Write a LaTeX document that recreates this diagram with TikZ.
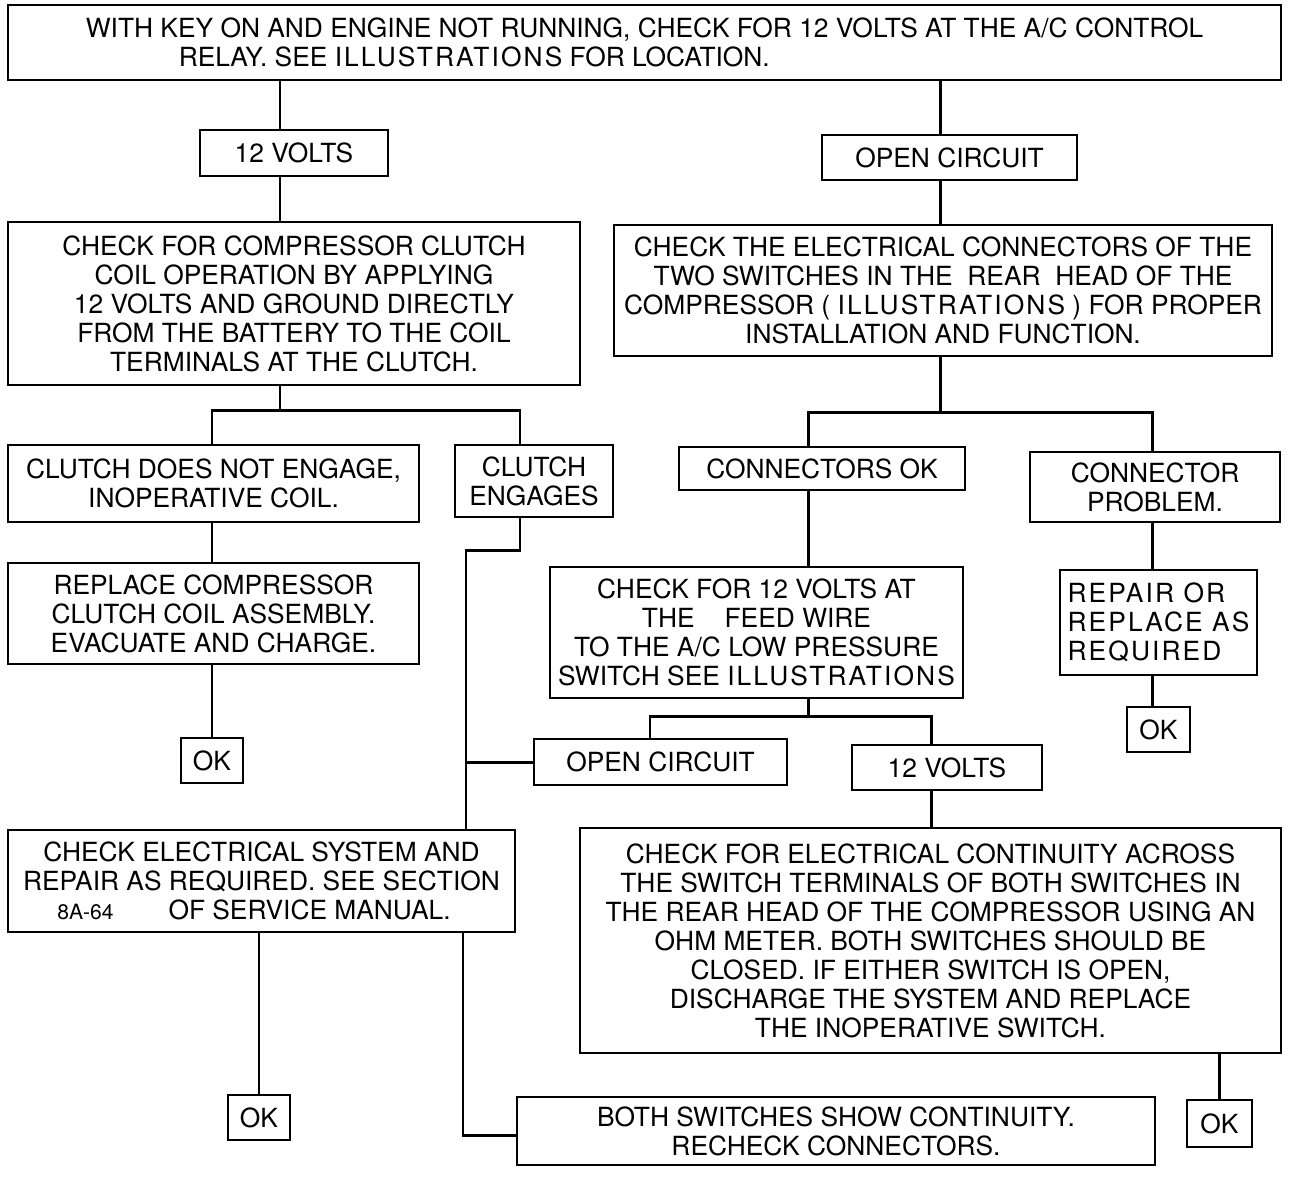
\documentclass[tikz,border=0pt]{standalone}
\usepackage{fontspec}
\setmainfont{TeX Gyre Heros}
\newfontfamily\spacedfont[LetterSpace=8]{TeX Gyre Heros}
\newcommand{\ltr}[1]{{\spacedfont #1}}
\begin{document}
\begin{tikzpicture}[x=0.02cm, y=-0.02cm,
    box/.style={draw, line width=1.5pt, align=center, inner sep=2pt,
                font=\fontsize{15}{16.5}\selectfont},
    wire/.style={line width=1.7pt}]
  \useasboundingbox (0,0) rectangle (1289,1178);
  % boxes
  \node[box, minimum width=25.46cm, minimum height=1.5cm, align=left] (top) at (644.5,42.5)
       {WITH KEY ON AND ENGINE NOT RUNNING, CHECK FOR 12 VOLTS AT THE A/C CONTROL\\
        \hspace*{1.86cm}RELAY. SEE \ltr{ILLUSTRATIONS} FOR LOCATION.};
  \node[box, minimum width=3.76cm, minimum height=0.92cm] (volts) at (294,153) {12 VOLTS};
  \node[box, minimum width=5.1cm, minimum height=0.9cm] (open) at (949.5,157.5) {OPEN CIRCUIT};
  \node[box, minimum width=11.44cm, minimum height=3.26cm] (coil) at (294,303.5)
       {CHECK FOR COMPRESSOR CLUTCH\\ COIL OPERATION BY APPLYING\\ 12 VOLTS AND GROUND DIRECTLY\\
        FROM THE BATTERY TO THE COIL\\ TERMINALS AT THE CLUTCH.};
  \node[box, minimum width=13.16cm, minimum height=2.62cm] (conn) at (943,290.5)
       {CHECK THE ELECTRICAL CONNECTORS OF THE\\ TWO SWITCHES IN THE \ REAR \ HEAD OF THE\\
        COMPRESSOR ( \ltr{ILLUSTRATIONS} ) FOR PROPER\\ INSTALLATION AND FUNCTION.};
  \node[box, minimum width=8.22cm, minimum height=1.54cm] (noeng) at (213.5,483.5)
       {CLUTCH DOES NOT ENGAGE,\\ INOPERATIVE COIL.};
  \node[box, minimum width=3.16cm, minimum height=1.44cm] (eng) at (534,481) {CLUTCH\\ ENGAGES};
  \node[box, minimum width=5.72cm, minimum height=0.86cm] (connok) at (822,468.5) {CONNECTORS OK};
  \node[box, minimum width=5cm, minimum height=1.4cm] (connbad) at (1155,487) {CONNECTOR\\ PROBLEM.};
  \node[box, minimum width=8.22cm, minimum height=2.02cm] (replace) at (213.5,613.5)
       {REPLACE COMPRESSOR\\ CLUTCH COIL ASSEMBLY.\\ EVACUATE AND CHARGE.};
  \node[box, minimum width=1.24cm, minimum height=0.9cm] (okA) at (212,760.5) {OK};
  \node[box, minimum width=8.26cm, minimum height=2.62cm] (feed) at (756.5,632.5)
       {CHECK FOR 12 VOLTS AT\\ THE\hspace{0.6cm}FEED WIRE\\ TO THE A/C LOW PRESSURE\\
        SWITCH SEE \ltr{ILLUSTRATIONS}};
  \node[box, minimum width=3.94cm, minimum height=2.1cm, align=left] (repair) at (1158.5,622.5)
       {\ltr{REPAIR OR}\\ \ltr{REPLACE AS}\\ \ltr{REQUIRED}};
  \node[box, minimum width=1.26cm, minimum height=0.9cm] (okB) at (1158.5,729.5) {OK};
  \node[box, minimum width=5.06cm, minimum height=0.92cm] (open2) at (660.5,762) {OPEN CIRCUIT};
  \node[box, minimum width=3.8cm, minimum height=0.9cm] (volts2) at (947,767.5) {12 VOLTS};
  \node[box, minimum width=14.02cm, minimum height=4.5cm] (cont) at (930.5,940.5)
       {CHECK FOR ELECTRICAL CONTINUITY ACROSS\\ THE SWITCH TERMINALS OF BOTH SWITCHES IN\\
        THE REAR HEAD OF THE COMPRESSOR USING AN\\ OHM METER. BOTH SWITCHES SHOULD BE\\
        CLOSED. IF EITHER SWITCH IS OPEN,\\ DISCHARGE THE SYSTEM AND REPLACE\\
        THE INOPERATIVE SWITCH.};
  \node[box, minimum width=10.14cm, minimum height=2.04cm] (elec) at (261.5,881)
       {CHECK ELECTRICAL SYSTEM AND\\ REPAIR AS REQUIRED. SEE SECTION\\
        {\fontsize{12}{12}\selectfont 8A-64}\hspace{1.1cm}OF SERVICE MANUAL.\hspace*{0.3cm}};
  \node[box, minimum width=1.24cm, minimum height=0.9cm] (okC) at (259,1117.5) {OK};
  \node[box, minimum width=1.3cm, minimum height=0.94cm] (okD) at (1219.5,1123.5) {OK};
  \node[box, minimum width=12.76cm, minimum height=1.36cm] (both) at (836,1131)
       {BOTH SWITCHES SHOW CONTINUITY.\\ RECHECK CONNECTORS.};
  % line positions
  \coordinate (xa) at (280,0);
  \coordinate (xb) at (940,0);
  \coordinate (xe) at (520,0);
  \coordinate (xc) at (808,0);
  \coordinate (xp) at (1152,0);
  \coordinate (xo) at (650,0);
  \coordinate (xv) at (931,0);
  \coordinate (xf) at (463,0);
  \coordinate (j1) at (280,410);
  \coordinate (j2) at (940,412);
  \coordinate (j3) at (808,716);
  \coordinate (j4) at (466,550);
  \coordinate (j5) at (463,1135);
  % connectors
  \draw[wire] (top.south -| xa) -- (volts.north -| xa);
  \draw[wire] (volts.south -| xa) -- (coil.north -| xa);
  \draw[wire] (top.south -| xb) -- (open.north -| xb);
  \draw[wire] (open.south -| xb) -- (conn.north -| xb);
  \draw[wire] (coil.south -| xa) -- (j1);
  \draw[wire] (noeng.north -| okA) |- (j1) -| (eng.north -| xe);
  \draw[wire] (conn.south -| xb) -- (j2);
  \draw[wire] (connok.north -| xc) |- (j2) -| (connbad.north -| xp);
  \draw[wire] (noeng.south -| okA) -- (replace.north -| okA);
  \draw[wire] (replace.south -| okA) -- (okA.north);
  \draw[wire] (connok.south -| xc) -- (feed.north -| xc);
  \draw[wire] (connbad.south -| xp) -- (repair.north -| xp);
  \draw[wire] (repair.south -| xp) -- (okB.north -| xp);
  \draw[wire] (feed.south -| xc) -- (j3);
  \draw[wire] (open2.north -| xo) |- (j3) -| (volts2.north -| xv);
  \draw[wire] (volts2.south -| xv) -- (cont.north -| xv);
  \draw[wire] (cont.south -| okD) -- (okD.north);
  \draw[wire] (eng.south -| xe) |- (j4) -- (elec.north -| j4);
  \draw[wire] (open2.west -| j4) -- (open2.west);
  \draw[wire] (elec.south -| xf) -- (j5) -- (both.west |- j5);
  \draw[wire] (elec.south -| okC) -- (okC.north);
\end{tikzpicture}
\end{document}
